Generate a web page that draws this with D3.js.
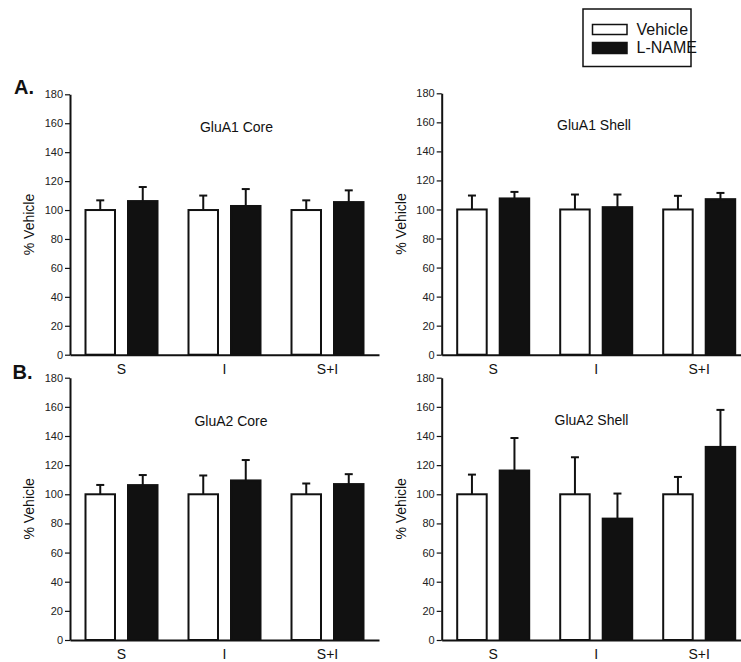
<!DOCTYPE html>
<html>
<head>
<meta charset="utf-8">
<script src="https://cdn.jsdelivr.net/npm/d3@7"></script>
<style>
  html, body { margin: 0; padding: 0; background: #fff; }
  svg { display: block; font-family: "Liberation Sans", Arial, Helvetica, sans-serif; }
</style>
</head>
<body>
<svg id="chart" width="741" height="662"></svg>
<script>
// ---------- data ----------
const categories = ["S", "I", "S+I"];
const seriesNames = ["Vehicle", "L-NAME"];
const yTicks = [0, 20, 40, 60, 80, 100, 120, 140, 160, 180];
const panelTitles = ["GluA1 Core", "GluA1 Shell", "GluA2 Core", "GluA2 Shell"];
const sectionLabels = ["A.", "B."];
const yAxisLabel = "% Vehicle";

const glua1CoreVehicle    = [100, 100, 100];
const glua1CoreVehicleErr = [6.7, 10.0, 6.7];
const glua1CoreLname      = [106.2, 102.8, 105.5];
const glua1CoreLnameErr   = [9.7, 11.7, 8.1];

const glua1ShellVehicle    = [100, 100, 100];
const glua1ShellVehicleErr = [9.6, 10.3, 9.4];
const glua1ShellLname      = [107.6, 101.6, 107.1];
const glua1ShellLnameErr   = [4.5, 8.7, 4.3];

const glua2CoreVehicle    = [100, 100, 100];
const glua2CoreVehicleErr = [6.4, 12.9, 7.4];
const glua2CoreLname      = [106.3, 109.5, 107.0];
const glua2CoreLnameErr   = [6.9, 14.0, 6.8];

const glua2ShellVehicle    = [100, 100, 100];
const glua2ShellVehicleErr = [13.5, 25.4, 11.9];
const glua2ShellLname      = [116.3, 83.3, 132.5];
const glua2ShellLnameErr   = [22.3, 17.2, 25.4];

const panelValues = [
  [[glua1CoreVehicle, glua1CoreVehicleErr], [glua1CoreLname, glua1CoreLnameErr]],
  [[glua1ShellVehicle, glua1ShellVehicleErr], [glua1ShellLname, glua1ShellLnameErr]],
  [[glua2CoreVehicle, glua2CoreVehicleErr], [glua2CoreLname, glua2CoreLnameErr]],
  [[glua2ShellVehicle, glua2ShellVehicleErr], [glua2ShellLname, glua2ShellLnameErr]]
];

// ---------- layout ----------
const layout = [
  { x0: 70,    yTop: 94.3, yBot: 354.7, tx: 236.5, ty: 131.5 },
  { x0: 441.7, yTop: 93.3, yBot: 354.7, tx: 594,   ty: 130 },
  { x0: 70,    yTop: 377.7, yBot: 640,  tx: 231,   ty: 426 },
  { x0: 441.7, yTop: 377.7, yBot: 640,  tx: 591.5, ty: 425 }
];
const bandW = 103;
const ink = "#111";
const fills = { "Vehicle": "#fff", "L-NAME": "#111" };

const svg = d3.select("#chart");

layout.forEach((L, pi) => {
  const g = svg.append("g");
  const x = d3.scaleBand().domain(categories).range([L.x0, L.x0 + bandW * categories.length]).padding(0);
  const xs = d3.scaleBand().domain(seriesNames).range([14.5, 88.5]).paddingInner(0.259);
  const y = d3.scaleLinear().domain([0, 180]).range([L.yBot, L.yTop]);

  const rows = [];
  seriesNames.forEach((s, si) => {
    categories.forEach((c, ci) => {
      rows.push({ s, c, v: panelValues[pi][si][0][ci], e: panelValues[pi][si][1][ci] });
    });
  });

  // error bars (upper only)
  const eb = g.append("g").attr("stroke", ink).attr("stroke-width", 2).attr("fill", "none");
  rows.forEach(d => {
    const cx = x(d.c) + xs(d.s) + xs.bandwidth() / 2;
    eb.append("line").attr("x1", cx).attr("x2", cx).attr("y1", y(d.v)).attr("y2", y(d.v + d.e));
    eb.append("line").attr("x1", cx - 4).attr("x2", cx + 4).attr("y1", y(d.v + d.e)).attr("y2", y(d.v + d.e));
  });

  // bars
  g.append("g").selectAll("rect").data(rows).join("rect")
    .attr("x", d => x(d.c) + xs(d.s) + 1)
    .attr("width", xs.bandwidth() - 2)
    .attr("y", d => y(d.v))
    .attr("height", d => y(0) - y(d.v))
    .attr("fill", d => fills[d.s])
    .attr("stroke", ink)
    .attr("stroke-width", 2);

  // y axis
  const ya = g.append("g").attr("transform", `translate(${L.x0},0)`)
    .call(d3.axisLeft(y).tickValues(yTicks).tickSize(5).tickSizeOuter(0).tickPadding(2));
  ya.select(".domain").attr("stroke", ink).attr("stroke-width", 2);
  ya.selectAll(".tick line").attr("stroke", ink).attr("stroke-width", 1.2);
  ya.selectAll(".tick text").attr("font-size", 11).attr("fill", "#222")
    .attr("font-family", "Liberation Sans, Arial, sans-serif");

  // x axis
  const xa = g.append("g").attr("transform", `translate(0,${L.yBot})`)
    .call(d3.axisBottom(x).tickSize(0).tickSizeOuter(0).tickPadding(9));
  xa.select(".domain").attr("stroke", ink).attr("stroke-width", 2);
  xa.selectAll(".tick text").attr("font-size", 14).attr("fill", "#111")
    .attr("font-family", "Liberation Sans, Arial, sans-serif");

  // y label
  g.append("text")
    .attr("transform", `translate(${L.x0 - 41},${(L.yTop + L.yBot) / 2}) rotate(-90)`)
    .attr("text-anchor", "middle").attr("dy", "0.35em")
    .attr("font-size", 14).attr("fill", "#111").text(yAxisLabel);

  // title
  g.append("text").attr("x", L.tx).attr("y", L.ty).attr("text-anchor", "middle")
    .attr("font-size", 14).attr("fill", "#111").text(panelTitles[pi]);
});

// section labels
svg.append("text").attr("x", 14).attr("y", 93.5).attr("font-size", 20).attr("font-weight", "bold")
  .attr("fill", "#111").text(sectionLabels[0]);
svg.append("text").attr("x", 12.5).attr("y", 378.5).attr("font-size", 20).attr("font-weight", "bold")
  .attr("fill", "#111").text(sectionLabels[1]);

// legend
const lg = svg.append("g");
lg.append("rect").attr("x", 583).attr("y", 9).attr("width", 108).attr("height", 57.5)
  .attr("fill", "#fff").attr("stroke", ink).attr("stroke-width", 1.5);
seriesNames.forEach((s, i) => {
  const yy = i === 0 ? 24 : 42;
  lg.append("rect").attr("x", 592.5).attr("y", yy + 0.5).attr("width", 34.5).attr("height", i === 0 ? 10 : 11)
    .attr("fill", fills[s]).attr("stroke", ink).attr("stroke-width", 1.5);
  lg.append("text").attr("x", 636.5).attr("y", i === 0 ? 35 : 53.3).attr("font-size", 16)
    .attr("fill", "#111").text(s);
});
</script>
</body>
</html>
